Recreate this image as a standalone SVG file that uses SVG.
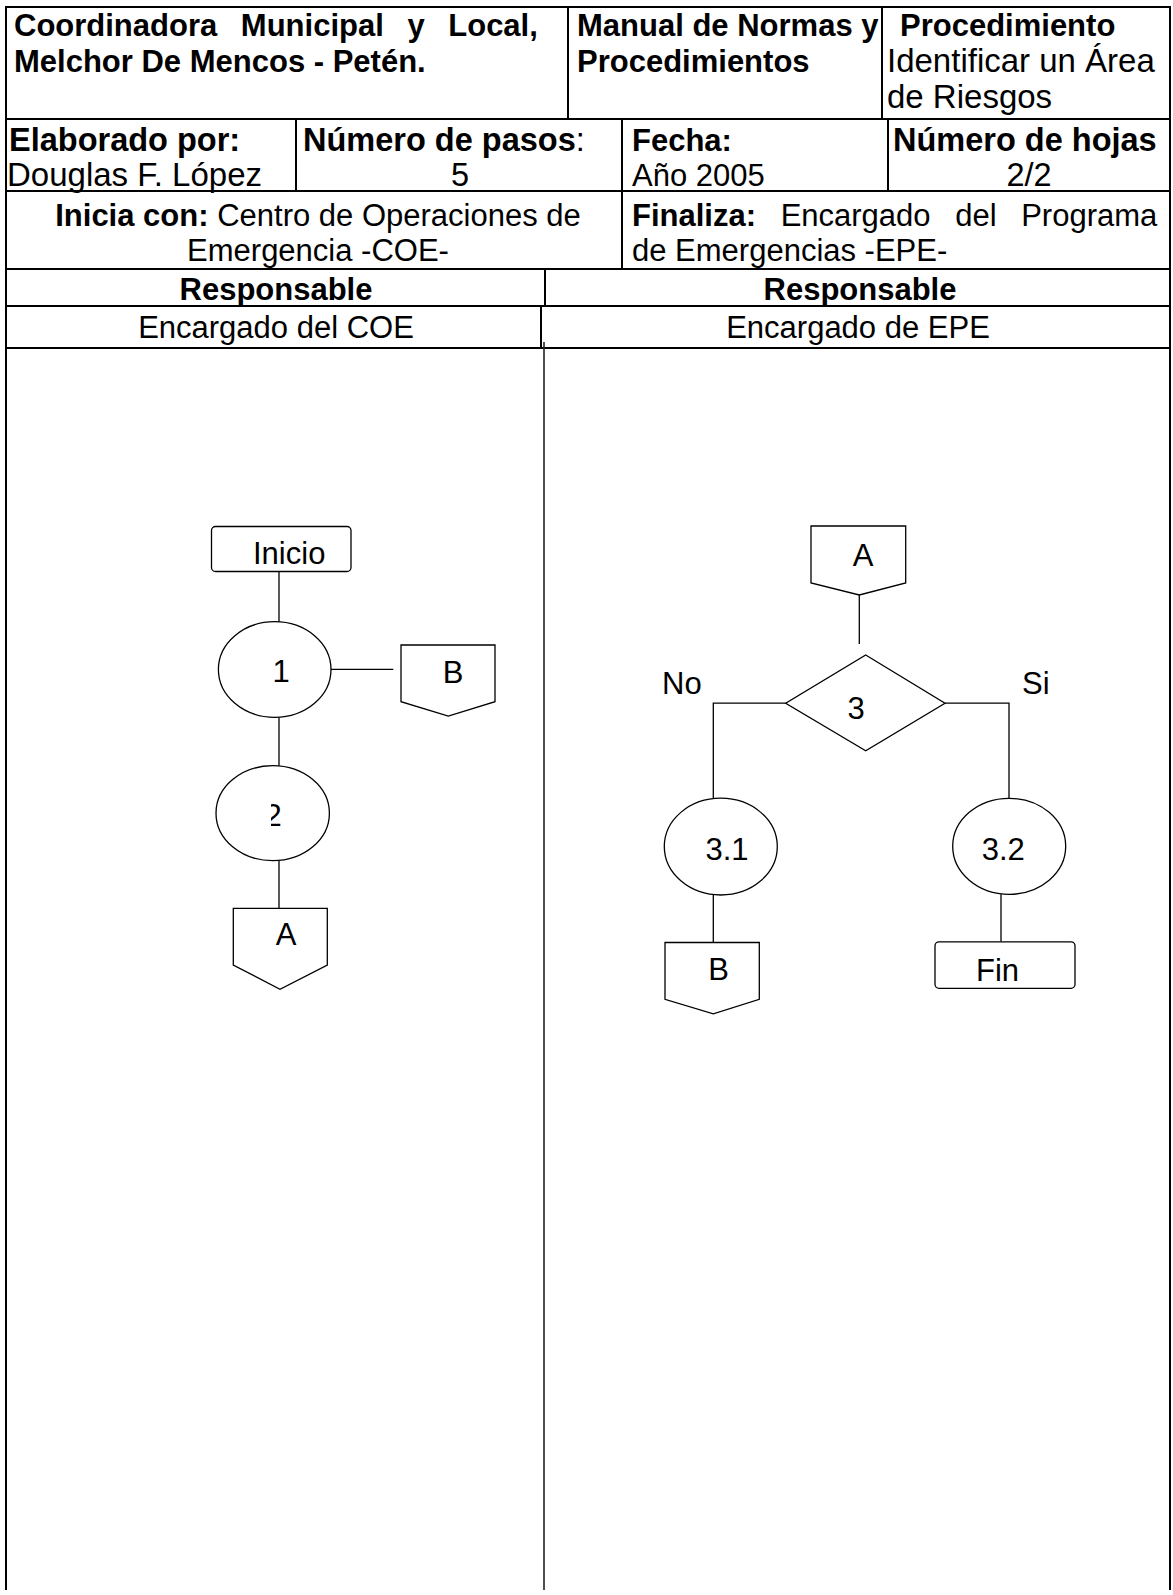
<svg xmlns="http://www.w3.org/2000/svg" width="1173" height="1595" viewBox="0 0 1173 1595">
<style>
.grid{stroke:#000;stroke-width:2;fill:none}
.lane{stroke:#222;stroke-width:1.6;fill:none}
.shape{fill:#fff;stroke:#000;stroke-width:1.3}
.conn{stroke:#000;stroke-width:1.3;fill:none}
text{font-family:"Liberation Sans",Arial,sans-serif;font-size:31px;fill:#000}
.b{font-weight:bold}
.c{text-anchor:middle}
.l{font-size:32.5px}
.xl{font-size:33px}
</style>
<defs>
<clipPath id="clip2"><rect x="271" y="780" width="40" height="60"/></clipPath>
</defs>
<rect width="1173" height="1595" fill="#fff"/>
<g id="table">
<line class="grid" x1="6" y1="7" x2="1170" y2="7"/>
<line class="grid" x1="6" y1="119" x2="1170" y2="119"/>
<line class="grid" x1="6" y1="191" x2="1170" y2="191"/>
<line class="grid" x1="6" y1="269" x2="1170" y2="269"/>
<line class="grid" x1="6" y1="306" x2="1170" y2="306"/>
<line class="grid" x1="6" y1="348" x2="1170" y2="348"/>
<line class="grid" x1="6" y1="6" x2="6" y2="1590"/>
<line class="grid" x1="1170" y1="6" x2="1170" y2="1590"/>
<line class="grid" x1="568" y1="7" x2="568" y2="119"/>
<line class="grid" x1="882" y1="7" x2="882" y2="119"/>
<line class="grid" x1="296" y1="119" x2="296" y2="191"/>
<line class="grid" x1="622" y1="119" x2="622" y2="269"/>
<line class="grid" x1="888" y1="119" x2="888" y2="191"/>
<line class="grid" x1="545" y1="269" x2="545" y2="306"/>
<line class="grid" x1="541" y1="306" x2="541" y2="348"/>
<line class="lane" x1="544" y1="342" x2="544" y2="1590"/>
</g>
<g id="cell-org"><text class="b" x="14" y="36" word-spacing="15">Coordinadora Municipal y Local,</text><text class="b" x="14" y="72">Melchor De Mencos - Petén.</text></g>
<g id="cell-manual"><text class="b" x="577" y="36">Manual de Normas y</text><text class="b" x="577" y="72">Procedimientos</text></g>
<g id="cell-proc"><text class="b" x="900" y="36">Procedimiento</text><text class="xl" x="887" y="72">Identificar un Área</text><text class="xl" x="887" y="108">de Riesgos</text></g>
<g id="cell-elab"><text class="b l" x="9" y="151">Elaborado por:</text><text class="xl" x="7" y="186">Douglas F. López</text></g>
<g id="cell-pasos"><text class="b l" x="303" y="151">Número de pasos<tspan font-weight="normal">:</tspan></text><text class="c l" x="460" y="186">5</text></g>
<g id="cell-fecha"><text class="b" x="632" y="151">Fecha:</text><text x="632" y="186">Año 2005</text></g>
<g id="cell-hojas"><text class="b l" x="893" y="151">Número de hojas</text><text class="c l" x="1029" y="186">2/2</text></g>
<g id="cell-inicia"><text class="c" x="318" y="226"><tspan class="b">Inicia con:</tspan> Centro de Operaciones de</text><text class="c" x="318" y="261">Emergencia -COE-</text></g>
<g id="cell-finaliza"><text x="632" y="226" word-spacing="16"><tspan class="b">Finaliza:</tspan> Encargado del Programa</text><text x="632" y="261">de Emergencias -EPE-</text></g>
<g id="cell-resp1"><text class="b c" x="276" y="300">Responsable</text></g>
<g id="cell-resp2"><text class="b c" x="860" y="300">Responsable</text></g>
<g id="cell-lane1"><text class="c" x="276" y="338">Encargado del COE</text></g>
<g id="cell-lane2"><text class="c" x="858" y="338">Encargado de EPE</text></g>
<g id="connectors">
<line class="conn" x1="279" y1="571.5" x2="279" y2="621.7"/>
<line class="conn" x1="330" y1="669.3" x2="393.3" y2="669.3"/>
<line class="conn" x1="279" y1="717.3" x2="279" y2="765.7"/>
<line class="conn" x1="279" y1="860.7" x2="279" y2="908.3"/>
<line class="conn" x1="859.3" y1="595" x2="859.3" y2="643.9"/>
<polyline class="conn" points="785.7,703.2 713.3,703.2 713.3,798.2"/>
<polyline class="conn" points="945,703.2 1009,703.2 1009,798.2"/>
<line class="conn" x1="713.3" y1="895" x2="713.3" y2="942.5"/>
<line class="conn" x1="1001" y1="894.3" x2="1001" y2="941.8"/>
</g>
<g id="node-inicio"><rect class="shape" x="211.5" y="526.5" width="139.5" height="45" rx="4"/><text x="253" y="564">Inicio</text></g>
<g id="node-1"><ellipse class="shape" cx="274.7" cy="669.5" rx="56.3" ry="47.8"/><text class="c" x="281" y="682">1</text></g>
<g id="node-offB-left"><path class="shape" d="M401,645 H495 V701.7 L448.3,716 L401,701.7 Z"/><text class="c" x="453" y="682.7">B</text></g>
<g id="node-2"><ellipse class="shape" cx="272.7" cy="813.2" rx="56.7" ry="47.5"/><text class="c" x="273" y="826" clip-path="url(#clip2)">2</text></g>
<g id="node-offA-left"><path class="shape" d="M233.3,908.3 H327.3 V965 L280,989.3 L233.3,965 Z"/><text class="c" x="286" y="945">A</text></g>
<g id="node-offA-right"><path class="shape" d="M811,526 H905.7 V583 L859.3,595 L811,583 Z"/><text class="c" x="863" y="566">A</text></g>
<g id="node-3"><path class="shape" d="M865.7,655 L945,703.2 L865.7,750.7 L785.7,703.2 Z"/><text class="c" x="856" y="719">3</text></g>
<g id="label-no"><text x="662" y="694">No</text></g>
<g id="label-si"><text x="1022" y="694">Si</text></g>
<g id="node-3-1"><ellipse class="shape" cx="720.8" cy="846.6" rx="56.5" ry="48.4"/><text class="c" x="727" y="860">3.1</text></g>
<g id="node-offB-right"><path class="shape" d="M665,942.5 H759.3 V999.3 L713.3,1013.8 L665,999.3 Z"/><text class="c" x="718.5" y="980.4">B</text></g>
<g id="node-3-2"><ellipse class="shape" cx="1009.2" cy="846.3" rx="56.5" ry="48"/><text class="c" x="1003.3" y="860">3.2</text></g>
<g id="node-fin"><rect class="shape" x="935" y="941.8" width="140" height="46.5" rx="4"/><text class="c" x="997.5" y="981.4">Fin</text></g>
</svg>
